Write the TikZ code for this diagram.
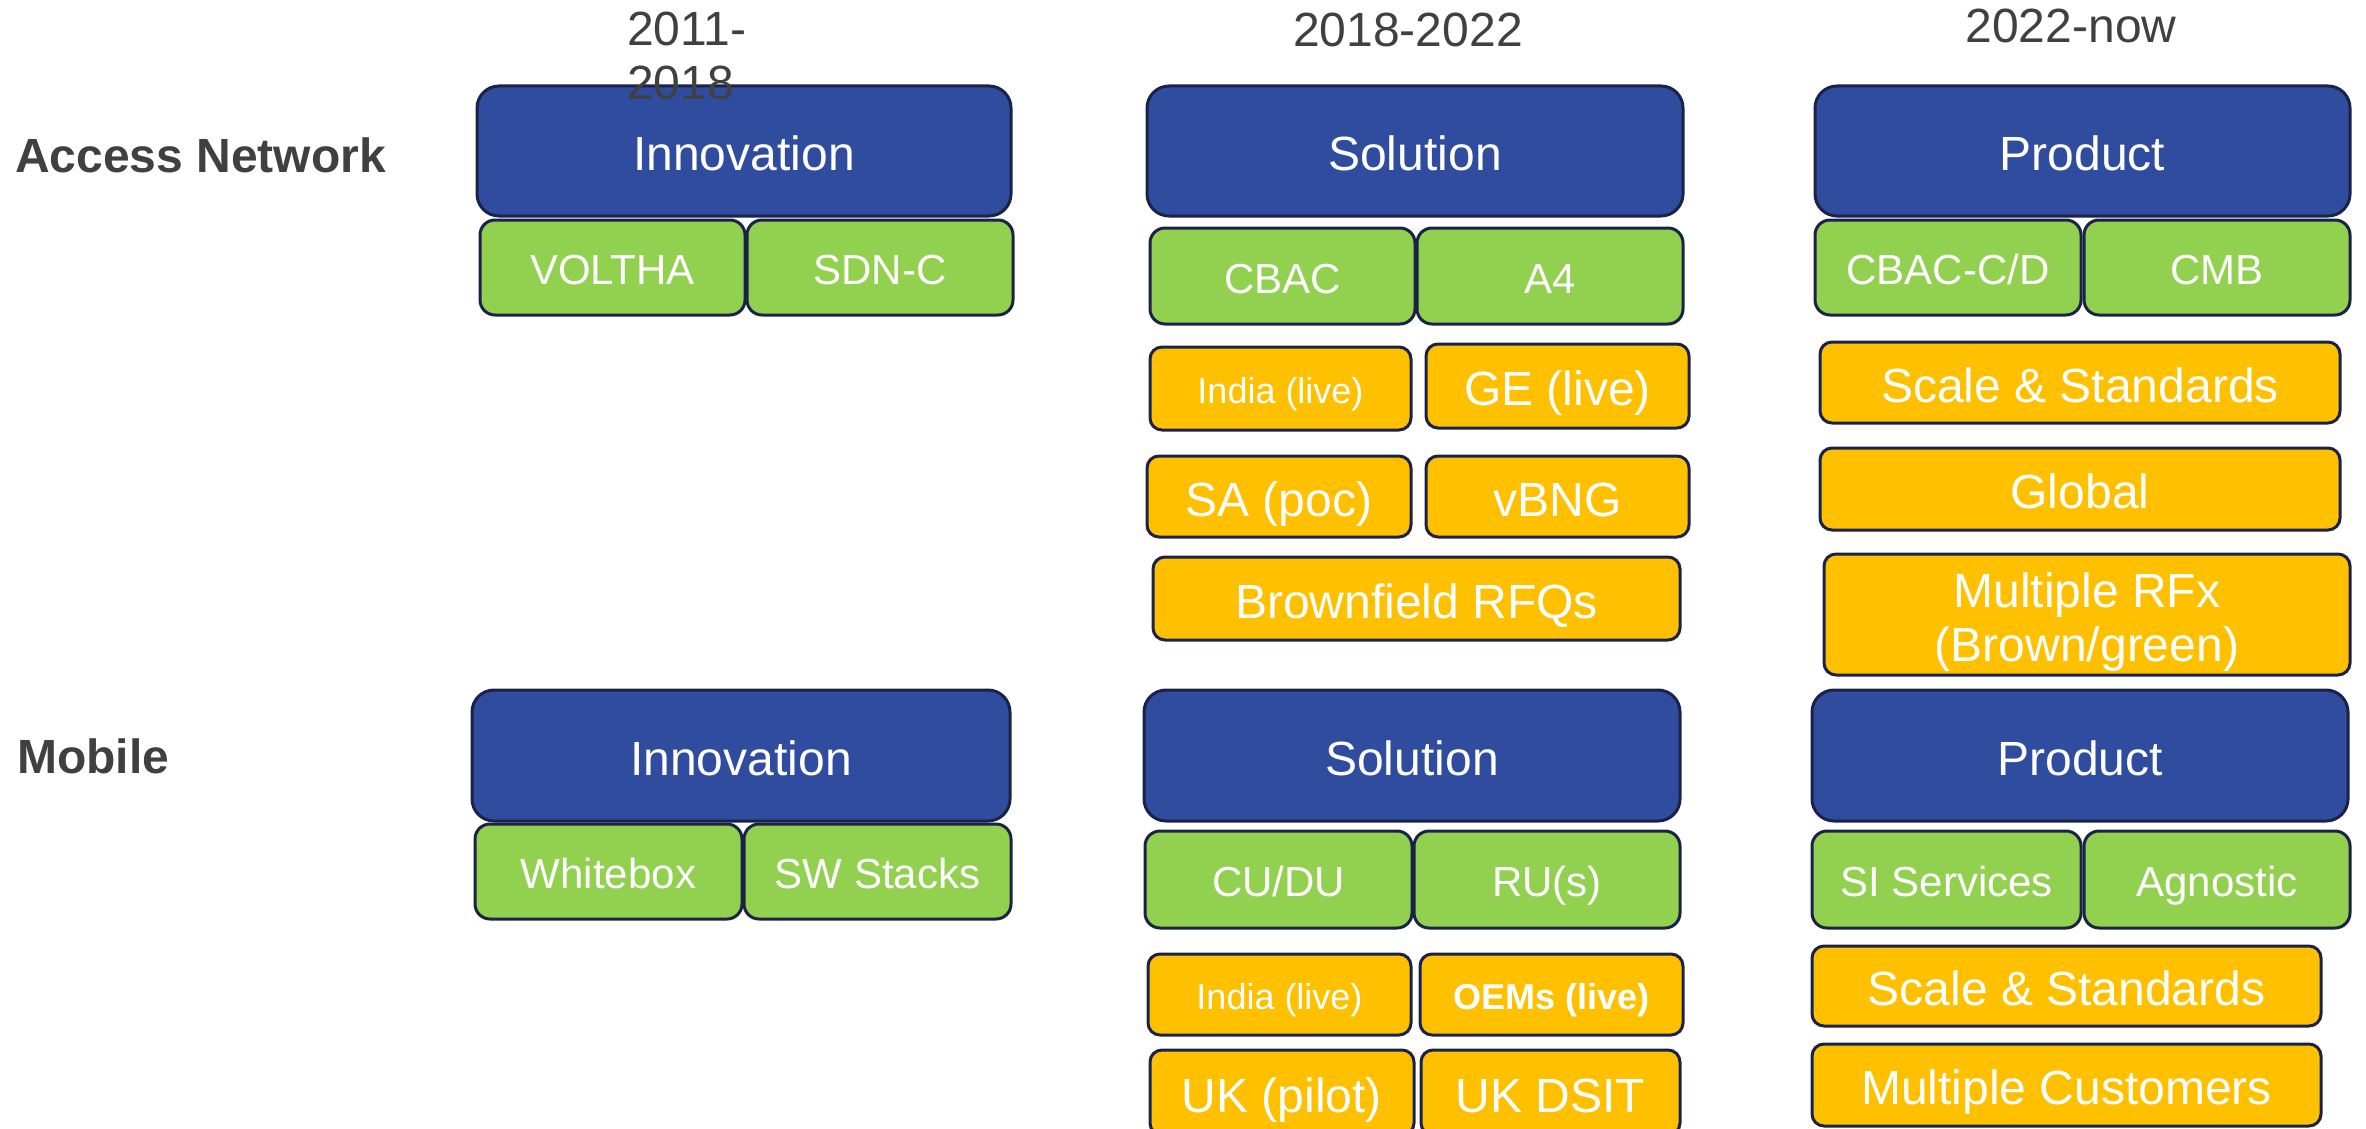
\documentclass[tikz,border=0pt]{standalone}
\usepackage{fontspec}
\setmainfont{Liberation Sans}
\definecolor{bluec}{HTML}{304C9F}
\definecolor{greenc}{HTML}{92D050}
\definecolor{orangec}{HTML}{FFC000}
\definecolor{edgec}{HTML}{1B2247}
\definecolor{labc}{HTML}{404040}
\tikzset{
  boxbase/.style={draw=edgec, line width=3pt, inner sep=0pt, text=white, align=center, text depth=0pt},
  bluebox/.style={boxbase, fill=bluec, rounded corners=22pt, font=\fontsize{48}{54}\selectfont, text height=39pt},
  greenbox/.style={boxbase, fill=greenc, rounded corners=15pt, font=\fontsize{42}{48}\selectfont, text height=34pt},
  orangebox/.style={boxbase, fill=orangec, rounded corners=12pt, font=\fontsize{48}{54}\selectfont, text height=39pt},
  smalltxt/.style={font=\fontsize{36}{42}\selectfont, text height=29pt},
  rowlabel/.style={anchor=base west, inner sep=0pt, text=labc, font=\fontsize{48}{54}\selectfont\bfseries},
  yearlabel/.style={inner sep=0pt, text=labc, font=\fontsize{48}{54}\selectfont},
  sz/.style 2 args={minimum width=#1pt, minimum height=#2pt}
}
\begin{document}
\begin{tikzpicture}[x=1pt,y=-1pt]
\useasboundingbox (0,0) rectangle (2366,1129);
% row labels
\node[rowlabel] (lan) at (15,172) {Access Network};
\node[rowlabel] (lmob) at (17,773) {Mobile};
% Access network row
\node[bluebox, sz={534}{130}] (innoA) at (744,151) {Innovation};
\node[greenbox, sz={265}{95}] (voltha) at (612.5,267.5) {VOLTHA};
\node[greenbox, sz={266}{95}] (sdnc) at (880,267.5) {SDN-C};
\node[bluebox, sz={536}{130}] (solA) at (1415,151) {Solution};
\node[greenbox, sz={265}{96}] (cbac) at (1282.5,276) {CBAC};
\node[greenbox, sz={266}{96}] (a4) at (1550,276) {A4};
\node[orangebox, smalltxt, sz={261}{83}] (indiaA) at (1280.5,388.5) {India (live)};
\node[orangebox, sz={263}{84}] (ge) at (1557.5,386) {GE (live)};
\node[orangebox, sz={264}{81}] (sa) at (1279,496.5) {SA (poc)};
\node[orangebox, sz={263}{81}] (vbng) at (1557.5,496.5) {vBNG};
\node[orangebox, sz={527}{83}] (brown) at (1416.5,598.5) {Brownfield RFQs};
\node[bluebox, sz={535}{130}] (prodA) at (2082.5,151) {Product};
\node[greenbox, sz={266}{95}] (cbaccd) at (1948,267.5) {CBAC-C/D};
\node[greenbox, sz={266}{95}] (cmb) at (2217,267.5) {CMB};
\node[orangebox, sz={520}{81}] (scaleA) at (2080,382.5) {Scale \& Standards};
\node[orangebox, sz={520}{82}] (global) at (2080,489) {Global};
\node[orangebox, sz={526}{121}, text height=94pt] (rfx) at (2087,614.5) {Multiple RFx\\(Brown/green)};
% Mobile row
\node[bluebox, sz={538}{131}] (innoM) at (741,755.5) {Innovation};
\node[greenbox, sz={267}{95}] (wbox) at (608.5,871.5) {Whitebox};
\node[greenbox, sz={267}{95}] (swst) at (877.5,871.5) {SW Stacks};
\node[bluebox, sz={536}{131}] (solM) at (1412,755.5) {Solution};
\node[greenbox, sz={267}{97}] (cudu) at (1278.5,879.5) {CU/DU};
\node[greenbox, sz={266}{97}] (rus) at (1547,879.5) {RU(s)};
\node[orangebox, smalltxt, sz={263}{81}] (indiaM) at (1279.5,994.5) {India (live)};
\node[orangebox, smalltxt, sz={263}{81}] (oems) at (1551.5,994.5) {\bfseries OEMs (live)};
\node[orangebox, sz={264}{85}] (ukp) at (1282,1092.5) {UK (pilot)};
\node[orangebox, sz={259}{85}] (ukd) at (1550.5,1092.5) {UK DSIT};
\node[bluebox, sz={536}{131}] (prodM) at (2080,755.5) {Product};
\node[greenbox, sz={269}{97}] (si) at (1946.5,879.5) {SI Services};
\node[greenbox, sz={266}{97}] (agn) at (2217,879.5) {Agnostic};
\node[orangebox, sz={509}{80}] (scaleM) at (2066.5,986) {Scale \& Standards};
\node[orangebox, sz={509}{82}] (multc) at (2066.5,1085) {Multiple Customers};
% year labels
\node[yearlabel, anchor=north west, align=left] (y1) at (627,12) {2011-\\2018};
\node[yearlabel, anchor=base] (y2) at (1408,47) {2018-2022};
\node[yearlabel, anchor=base] (y3) at (2071,43) {2022-now};
\end{tikzpicture}
\end{document}
